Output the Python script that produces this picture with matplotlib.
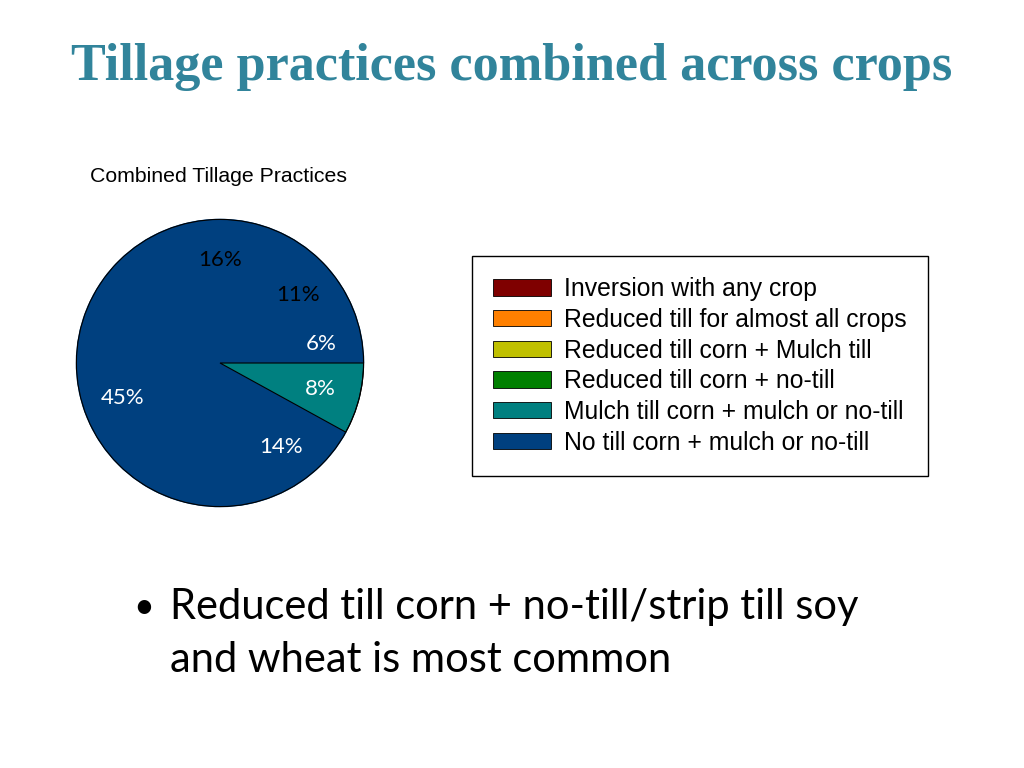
import matplotlib
import matplotlib.pyplot as plt
from matplotlib.patches import Patch, Circle

matplotlib.use("Agg")

# legend categories and their colours
categories = [
    "Inversion with any crop",
    "Reduced till for almost all crops",
    "Reduced till corn + Mulch till",
    "Reduced till corn + no-till",
    "Mulch till corn + mulch or no-till",
    "No till corn + mulch or no-till",
]
legend_colors = ["#7F0000", "#FF8000", "#C0C000", "#008000", "#008080", "#00407F"]

# pie slices, counter-clockwise from 3 o'clock, as drawn in the picture
slice_values = [6, 11, 16, 45, 14, 8]
slice_colors = ["#00407F", "#00407F", "#00407F", "#00407F", "#00407F", "#008080"]
label_colors = ["white", "black", "black", "white", "white", "white"]

TITLE = "Tillage practices combined across crops"
SUBTITLE = "Combined Tillage Practices"
BULLET = ["Reduced till corn + no-till/strip till soy", "and wheat is most common"]

fig = plt.figure(figsize=(10.24, 7.68), dpi=100)

fig.text(0.5, 1 - 67 / 768, TITLE, ha="center", va="center",
         family="Liberation Serif", weight="bold", size=37.6, color="#31849B")
fig.text(90 / 1024, 1 - 176 / 768, SUBTITLE, ha="left", va="center",
         family="Liberation Sans", size=15.3, color="black")

# --------------------
# pie
# --------------------
ax = fig.add_axes([75 / 1024, 1 - 508 / 768, 290 / 1024, 290 / 768])
wedges, texts, autotexts = ax.pie(
    slice_values, colors=slice_colors, startangle=0, counterclock=True,
    autopct="%.0f%%", pctdistance=0.72, radius=1,
    textprops=dict(family="Lato", size=16),
)
for w, c in zip(wedges, slice_colors):
    # same-colour edges hide the seams between the blue slices
    w.set_edgecolor(c)
    w.set_linewidth(1.0)
for t, c in zip(autotexts, label_colors):
    t.set_color(c)
# only the teal slice shows its edges
wedges[-1].set_edgecolor("black")
wedges[-1].set_linewidth(0.8)
wedges[-1].set_zorder(3)
ax.add_patch(Circle((0, 0), 1, fill=False, edgecolor="black", linewidth=0.8, zorder=4))
for t in autotexts:
    t.set_zorder(5)
ax.set_xlim(-1.01, 1.01)
ax.set_ylim(-1.01, 1.01)
ax.set_aspect("equal")
ax.axis("off")

# --------------------
# legend
# --------------------
handles = [Patch(facecolor=c, edgecolor="black", linewidth=0.6) for c in legend_colors]
leg = fig.legend(
    handles, categories, loc="upper left",
    bbox_to_anchor=(472 / 1024, 1 - 256 / 768), borderaxespad=0,
    prop=dict(family="Liberation Sans", size=17.8),
    frameon=True, fancybox=False, edgecolor="black", framealpha=1,
    handlelength=2.33, handleheight=0.64, handletextpad=0.55,
    labelspacing=0.27, borderpad=0.86,
)
leg.get_frame().set_linewidth(1.0)

# --------------------
# bullet text
# --------------------
fig.text(133 / 1024, 1 - 607 / 768, "\u2022", ha="left", va="center",
         family="Lato", size=26)
fig.text(170 / 1024, 1 - 607 / 768, BULLET[0], ha="left", va="center",
         family="Lato", size=30)
fig.text(170 / 1024, 1 - 660 / 768, BULLET[1], ha="left", va="center",
         family="Lato", size=30)

fig.savefig("out.png", dpi=100)
plt.close(fig)
